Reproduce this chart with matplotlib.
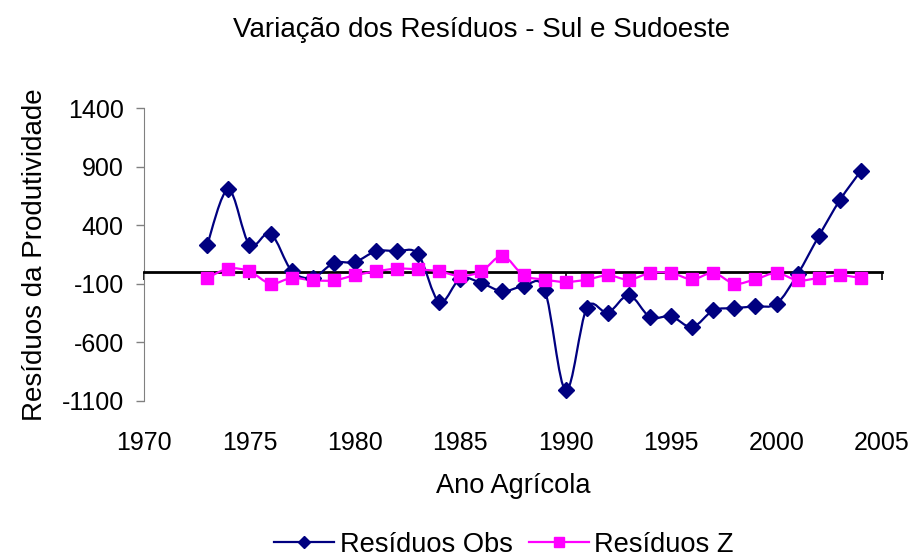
import matplotlib
matplotlib.use("Agg")
import matplotlib.pyplot as plt
from matplotlib.path import Path
from matplotlib.patches import PathPatch
from matplotlib.lines import Line2D
import numpy as np

plt.rcParams['font.family'] = ['Liberation Sans', 'DejaVu Sans']
plt.rcParams['axes.unicode_minus'] = False

years = list(range(1973, 2005))
res_obs = [233, 704, 233, 327, 10, -50, 75, 84, 175, 175,
           150, -258, -58, -96, -167, -124, -153, -1014, -310, -349,
           -201, -387, -381, -472, -330, -310, -295, -272, -20, 304,
           612, 863]
res_z = [-53, 27, 4, -101, -53, -73, -73, -30, 4, 27,
         21, 4, -36, 4, 135, -30, -67, -87, -67, -30,
         -67, -10, -10, -64, -10, -101, -64, -10, -73, -53,
         -30, -53]
title = "Variação dos Resíduos - Sul e Sudoeste"
xlabel = "Ano Agrícola"
ylabel = "Resíduos da Produtividade"
xticks = [1970, 1975, 1980, 1985, 1990, 1995, 2000, 2005]
yticks = [-1100, -600, -100, 400, 900, 1400]
names = ["Resíduos Obs", "Resíduos Z"]
colors = ["#000080", "#FF00FF"]


def smooth_path(xs, ys, k=1.0 / 6.0):
    xs = np.asarray(xs, float)
    ys = np.asarray(ys, float)
    n = len(xs)
    verts = [(xs[0], ys[0])]
    codes = [Path.MOVETO]
    for i in range(n - 1):
        i0 = max(i - 1, 0)
        i3 = min(i + 2, n - 1)
        c1 = (xs[i] + (xs[i + 1] - xs[i0]) * k, ys[i] + (ys[i + 1] - ys[i0]) * k)
        c2 = (xs[i + 1] - (xs[i3] - xs[i]) * k, ys[i + 1] - (ys[i3] - ys[i]) * k)
        verts += [c1, c2, (xs[i + 1], ys[i + 1])]
        codes += [Path.CURVE4] * 3
    return Path(verts, codes)


fig = plt.figure(figsize=(9.14, 5.58), dpi=100)
ax = fig.add_axes([144 / 914, 1 - 400.5 / 558, (882 - 144) / 914, (400.5 - 108) / 558])

markers = ["D", "s"]
msizes = [7.8, 9.3]
for series, c, m, ms in zip([res_obs, res_z], colors, markers, msizes):
    ax.add_patch(PathPatch(smooth_path(years, series), fill=False, edgecolor=c,
                           lw=1.6, transform=ax.transData, zorder=3))
    ax.plot(years, series, linestyle="none", marker=m, ms=ms, color=c,
            markeredgecolor=c, zorder=4)

ax.set_xlim(1970, 2005)
ax.set_ylim(-1100, 1400)
ax.set_yticks(yticks)
ax.set_xticks(xticks)
ax.tick_params(axis='y', direction='out', length=5.5, width=1, color='#808080',
               labelsize=18, pad=9)
ax.spines['left'].set_color('#808080')
ax.spines['right'].set_visible(False)
ax.spines['top'].set_visible(False)
ax.spines['bottom'].set_position(('data', 0))
ax.spines['bottom'].set_linewidth(2)
ax.spines['bottom'].set_color('black')
ax.tick_params(axis='x', direction='out', length=6, width=1.2, color='black',
               labelbottom=False)

sec = ax.secondary_xaxis('bottom')
sec.set_xticks(xticks)
sec.spines['bottom'].set_visible(False)
sec.tick_params(axis='x', length=0, labelsize=18, pad=22)
sec.set_xlabel(xlabel, fontsize=19.6, labelpad=13)

ax.set_ylabel(ylabel, fontsize=20, labelpad=10)
fig.text(0.527, 1 - 30 / 558, title, ha='center', va='center', fontsize=20)

handles = [Line2D([], [], color=c, marker=m, ms=ms * 0.8, lw=1.6)
           for c, m, ms in zip(colors, markers, msizes)]
fig.legend(handles, names, loc='center', bbox_to_anchor=(504 / 914, 1 - 545 / 558),
           ncol=2, frameon=False, fontsize=19.6, handlelength=2.2,
           handletextpad=0.2, columnspacing=0.6)

fig.savefig("out.png", dpi=100)
